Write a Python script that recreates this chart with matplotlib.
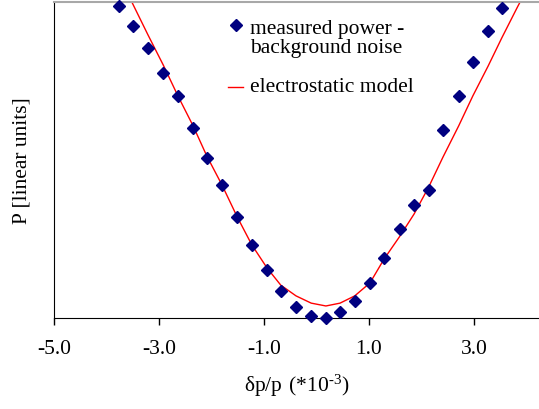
import numpy as np
import matplotlib.pyplot as plt

plt.rcParams['font.family'] = ['Liberation Serif', 'DejaVu Serif']

# data (P in arbitrary linear units, 0..100 = axis range)
dp = [-3.76, -3.50, -3.21, -2.92, -2.64, -2.35, -2.09, -1.80, -1.51, -1.23,
      -0.94, -0.68, -0.39, -0.10, 0.18, 0.45, 0.73, 1.02, 1.29, 1.59,
      1.86, 2.14, 2.41, 2.71, 2.98, 3.27, 3.53]
p_meas = [98.7, 92.4, 85.4, 77.5, 70.3, 60.1, 50.6, 42.1, 32.0, 23.1,
          15.2, 8.5, 3.5, 0.6, 0.0, 1.9, 5.4, 11.1, 19.0, 28.2,
          35.8, 40.5, 59.5, 70.3, 81.0, 90.8, 98.1]

dp_model = dp + [3.82, 4.10]
p_model = [108.2, 99.4, 89.6, 80.1, 70.3, 60.8, 51.3, 42.1, 32.0, 23.1,
           15.8, 10.4, 7.0, 4.7, 3.8, 4.7, 7.0, 11.1, 18.7, 25.9,
           32.9, 41.5, 50.9, 60.8, 70.3, 79.7, 88.6, 98.1, 107.0]

xticks = [-5.0, -3.0, -1.0, 1.0, 3.0]
fs = 15.5

fig = plt.figure(figsize=(5.39, 4.10), dpi=100)
ax = fig.add_axes([0.1002, 0.222, 0.8998, 0.7707])

ax.plot(dp, p_meas, linestyle='none', marker='D', ms=6, color='#000080',
        clip_on=False, zorder=3)
ax.plot(dp_model, p_model, color='red', lw=1, zorder=2)

ax.set_xlim(-5.0, 4.24)
ax.set_ylim(0, 100)
ax.set_xticks(xticks)
ax.set_xticklabels(['%.1f' % t for t in xticks])
ax.set_yticks([])
ax.tick_params(axis='x', direction='out', length=5, width=1, pad=10,
               labelsize=fs)

ax.spines['right'].set_visible(False)
ax.spines['top'].set_color('#a8a8a8')
ax.spines['top'].set_linewidth(1.5)

ax.set_xlabel(r'$\mathregular{\delta p/p\ (*10^{‐3})}$', fontsize=fs, labelpad=10)
ax.set_ylabel('P [linear units]', fontsize=fs, labelpad=16)

# legend keys, placed by hand like the original
tr = ax.transAxes
ax.plot([0.375], [0.927], transform=tr, linestyle='none', marker='D', ms=6,
        color='#000080', clip_on=False)
ax.text(0.404, 0.887, 'measured power -\nbackground noise', transform=tr,
        fontsize=fs, va='center', ha='left', linespacing=1.0)
ax.plot([0.359, 0.390], [0.731, 0.731], transform=tr, color='red', lw=1)
ax.text(0.404, 0.731, 'electrostatic model', transform=tr,
        fontsize=fs, va='center', ha='left')

fig.savefig('out.png', dpi=100)
